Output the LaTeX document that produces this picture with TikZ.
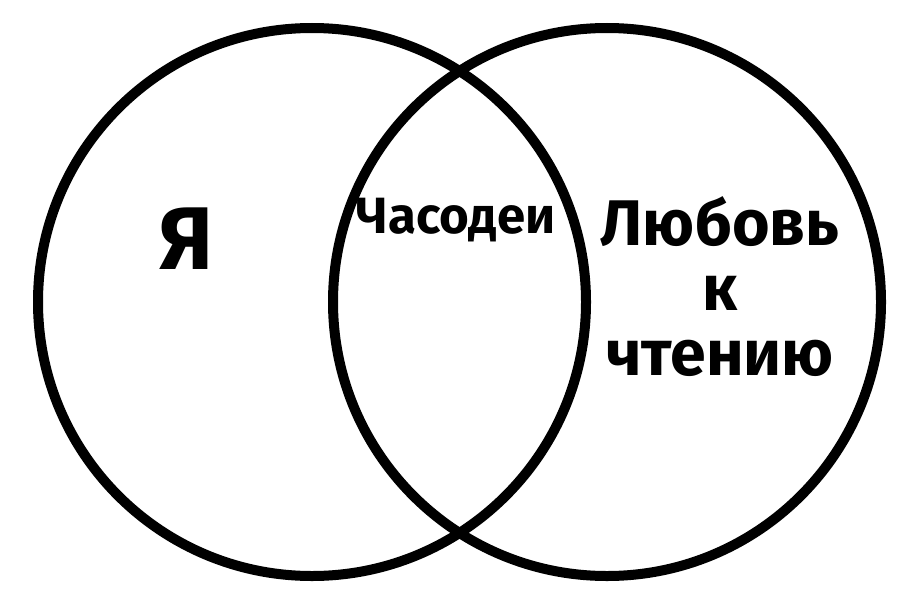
\documentclass[tikz,border=0pt]{standalone}
\usepackage{fontspec}
\setmainfont{Fira Sans}
\usetikzlibrary{positioning}

\begin{document}
\begin{tikzpicture}[x=1pt,y=-1pt]
        \useasboundingbox (0,0) rectangle (920,602);
        \foreach \x/\name in {312/me,607/books}{\node[draw, circle, line width=10pt, minimum size=548pt, inner sep=0pt] (\name) at (\x,302) {};}
       \node[anchor=base, font=\bfseries\fontsize{89}{89}\selectfont] (ya) at (187,269) {Я};
       \node[anchor=base, font=\bfseries\fontsize{51}{51}\selectfont] (chasodei) at (456,233) {Часодеи};
       \node[anchor=base, align=center, font=\bfseries\fontsize{64.5}{65}\selectfont] (love) at (720,375) {Любовь\\к\\чтению};
    \end{tikzpicture}
\end{document}
